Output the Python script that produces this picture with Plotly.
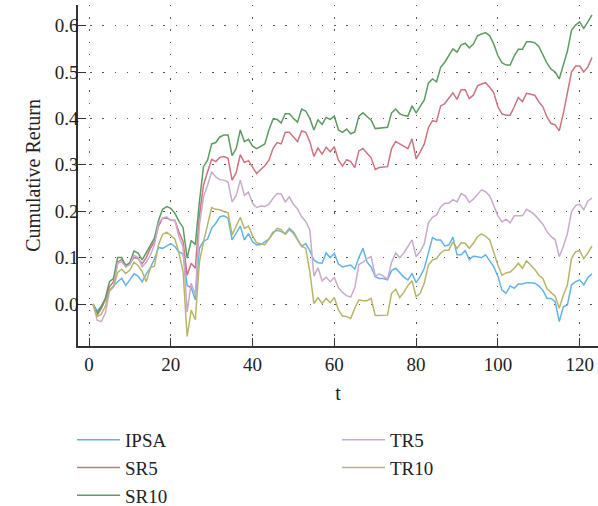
import plotly.graph_objects as go

t = list(range(1, 124))

ipsa = [0, -0.015, -0.005, 0.01, 0.03, 0.04, 0.048, 0.055, 0.04, 0.052,
        0.065, 0.06, 0.048, 0.065, 0.078, 0.097, 0.122, 0.12, 0.125, 0.13,
        0.124, 0.112, 0.108, 0.04, 0.035, 0.009, 0.12, 0.135, 0.14, 0.163,
        0.174, 0.188, 0.19, 0.185, 0.138, 0.152, 0.168, 0.138, 0.152, 0.134,
        0.127, 0.128, 0.134, 0.14, 0.155, 0.159, 0.156, 0.152, 0.163, 0.155,
        0.14, 0.124, 0.13, 0.115, 0.095, 0.089, 0.088, 0.11, 0.1, 0.109,
        0.086, 0.08, 0.082, 0.084, 0.075, 0.1, 0.12, 0.09, 0.08, 0.059,
        0.055, 0.055, 0.052, 0.072, 0.077, 0.068, 0.058, 0.052, 0.066, 0.046,
        0.059, 0.077, 0.11, 0.143, 0.138, 0.138, 0.125, 0.127, 0.144, 0.106,
        0.106, 0.115, 0.096, 0.103, 0.102, 0.1, 0.106, 0.092, 0.08, 0.06,
        0.03, 0.023, 0.039, 0.034, 0.043, 0.043, 0.046, 0.046, 0.045, 0.039,
        0.03, 0.012, 0.012, 0.005, -0.038, -0.006, -0.002, 0.041, 0.048, 0.052,
        0.041, 0.057, 0.065]

sr5 = [0, -0.024, -0.01, 0.01, 0.037, 0.048, 0.09, 0.096, 0.084, 0.088,
       0.1, 0.098, 0.087, 0.1, 0.12, 0.134, 0.168, 0.185, 0.185, 0.181,
       0.18, 0.155, 0.135, 0.062, 0.088, 0.077, 0.19, 0.256, 0.285, 0.312,
       0.307, 0.316, 0.318, 0.314, 0.267, 0.283, 0.322, 0.305, 0.309, 0.296,
       0.281, 0.29, 0.298, 0.31, 0.335, 0.348, 0.345, 0.37, 0.37, 0.36,
       0.35, 0.373, 0.37, 0.35, 0.318, 0.336, 0.323, 0.338, 0.328, 0.339,
       0.31, 0.297, 0.311, 0.307, 0.294, 0.33, 0.335, 0.325, 0.315, 0.29,
       0.294, 0.295, 0.296, 0.335, 0.35, 0.345, 0.34, 0.335, 0.356, 0.313,
       0.328, 0.345, 0.38, 0.395, 0.393, 0.427, 0.432, 0.443, 0.455, 0.441,
       0.462, 0.462, 0.443, 0.45, 0.47, 0.474, 0.477, 0.467, 0.455, 0.425,
       0.41, 0.407, 0.407, 0.425, 0.445, 0.436, 0.454, 0.452, 0.45, 0.436,
       0.425, 0.403, 0.389, 0.386, 0.373, 0.411, 0.454, 0.5, 0.513, 0.513,
       0.5, 0.511, 0.531]

sr10 = [0, -0.02, -0.005, 0.012, 0.048, 0.055, 0.1, 0.1, 0.08, 0.09,
        0.114, 0.11, 0.095, 0.11, 0.125, 0.142, 0.18, 0.204, 0.21, 0.206,
        0.196, 0.178, 0.165, 0.099, 0.137, 0.128, 0.22, 0.296, 0.31, 0.345,
        0.348, 0.36, 0.364, 0.364, 0.32, 0.335, 0.375, 0.35, 0.355, 0.34,
        0.335, 0.34, 0.345, 0.375, 0.398, 0.398, 0.39, 0.41, 0.41, 0.4,
        0.392, 0.42, 0.416, 0.4, 0.375, 0.397, 0.387, 0.402, 0.398, 0.405,
        0.375, 0.37, 0.377, 0.367, 0.371, 0.405, 0.412, 0.404, 0.396, 0.378,
        0.379, 0.38, 0.381, 0.412, 0.42, 0.41, 0.406, 0.405, 0.427, 0.412,
        0.425, 0.44, 0.476, 0.485, 0.479, 0.51, 0.521, 0.535, 0.55, 0.543,
        0.558, 0.562, 0.552, 0.56, 0.578, 0.582, 0.585, 0.578, 0.56, 0.535,
        0.52, 0.515, 0.515, 0.535, 0.549, 0.549, 0.565, 0.565, 0.563, 0.555,
        0.537, 0.519, 0.506, 0.5, 0.485, 0.515, 0.545, 0.59, 0.601, 0.608,
        0.594, 0.608, 0.623]

tr5 = [0, -0.035, -0.038, -0.02, 0.027, 0.037, 0.088, 0.091, 0.08, 0.085,
       0.105, 0.1, 0.08, 0.09, 0.105, 0.127, 0.174, 0.185, 0.188, 0.18,
       0.18, 0.145, 0.123, -0.017, 0.045, 0.02, 0.17, 0.231, 0.256, 0.285,
       0.274, 0.268, 0.267, 0.263, 0.22, 0.234, 0.267, 0.234, 0.241, 0.217,
       0.208, 0.211, 0.21, 0.215, 0.228, 0.238, 0.237, 0.22, 0.231, 0.215,
       0.205, 0.188, 0.178, 0.16, 0.06, 0.078, 0.05, 0.058, 0.048, 0.057,
       0.035, 0.025, 0.018, 0.015, 0.035, 0.085, 0.09, 0.098, 0.102, 0.06,
       0.065, 0.06, 0.053, 0.09, 0.11, 0.1, 0.11, 0.125, 0.138, 0.102,
       0.113, 0.13, 0.175, 0.187, 0.192, 0.209, 0.217, 0.217, 0.225, 0.22,
       0.238, 0.233, 0.219, 0.226, 0.237, 0.246, 0.242, 0.233, 0.212, 0.19,
       0.177, 0.183, 0.175, 0.19, 0.19, 0.19, 0.204, 0.199, 0.192, 0.181,
       0.172, 0.156, 0.145, 0.139, 0.102, 0.124, 0.152, 0.199, 0.212, 0.215,
       0.203, 0.222, 0.228]

tr10 = [0, -0.027, -0.022, -0.005, 0.03, 0.037, 0.068, 0.075, 0.066, 0.073,
        0.09, 0.083, 0.07, 0.048, 0.078, 0.082, 0.128, 0.15, 0.155, 0.148,
        0.14, 0.11, 0.07, -0.07, -0.013, -0.034, 0.09, 0.134, 0.17, 0.208,
        0.204, 0.203, 0.199, 0.197, 0.149, 0.168, 0.187, 0.163, 0.168, 0.147,
        0.132, 0.13, 0.128, 0.14, 0.152, 0.163, 0.16, 0.15, 0.16, 0.152,
        0.138, 0.124, 0.12, 0.07, 0.001, 0.014, 0.001, 0.012, 0.003, 0.014,
        -0.013, -0.026, -0.027, -0.031, -0.009, 0.009, 0.007, 0.007, 0.012, -0.025,
        -0.025, -0.024, -0.024, 0.023, 0.032, 0.014, 0.025, 0.04, 0.05, 0.016,
        0.023, 0.045, 0.084, 0.095, 0.098, 0.11, 0.116, 0.116, 0.134, 0.12,
        0.132, 0.131, 0.12, 0.131, 0.145, 0.151, 0.146, 0.138, 0.109, 0.084,
        0.062, 0.067, 0.069, 0.077, 0.088, 0.077, 0.093, 0.084, 0.075, 0.062,
        0.055, 0.033, 0.024, 0.017, -0.009, 0.019, 0.041, 0.098, 0.113, 0.115,
        0.098, 0.11, 0.125]

series_names = ["IPSA", "SR5", "SR10", "TR5", "TR10"]
series_values = [ipsa, sr5, sr10, tr5, tr10]
colors = ["#62B3E6", "#CC7480", "#5E9B62", "#C9ABCB", "#B7B56C"]
legend_ids = ["legend", "legend", "legend", "legend2", "legend2"]

x_ticks = [0, 20, 40, 60, 80, 100, 120]
y_ticks = [0.0, 0.1, 0.2, 0.3, 0.4, 0.5, 0.6]

FONT = "Liberation Serif"

fig = go.Figure()
for name, vals, col, lg in zip(series_names, series_values, colors, legend_ids):
    fig.add_trace(go.Scatter(x=t, y=vals, mode="lines", name=name,
                             line=dict(color=col, width=1.5),
                             legend=lg, legendgroup=name))

axis_common = dict(
    showline=True, linecolor="#333333", linewidth=1.5,
    ticks="inside", ticklen=8, tickwidth=1.3, tickcolor="#333333",
    showgrid=True, gridcolor="#555555", gridwidth=1.3, griddash="1.3px,10.9px",
    zeroline=False, mirror=False, automargin=False,
    tickfont=dict(family=FONT, size=19, color="#222222"),
)

fig.update_layout(
    width=598, height=506,
    margin=dict(l=78, r=0, t=5, b=160, autoexpand=False),
    paper_bgcolor="white", plot_bgcolor="white",
    font=dict(family=FONT, size=19, color="#222222"),
    xaxis=dict(range=[-2.69, 124.48], tickvals=x_ticks,
               title=dict(text="t", font=dict(family=FONT, size=20), standoff=12),
               **axis_common),
    yaxis=dict(range=[-0.0905, 0.6444], tickvals=y_ticks, tickformat=".1f",
               ticklabelstandoff=-6,
               title=dict(text="Cumulative Return", font=dict(family=FONT, size=20), standoff=9),
               **axis_common),
    legend=dict(x=-0.0115, y=-0.22, xanchor="left", yanchor="top",
                bgcolor="rgba(0,0,0,0)", itemwidth=43, tracegroupgap=0,
                font=dict(family=FONT, size=19)),
    legend2=dict(x=0.498, y=-0.22, xanchor="left", yanchor="top",
                 bgcolor="rgba(0,0,0,0)", itemwidth=43, tracegroupgap=0,
                 font=dict(family=FONT, size=19)),
    showlegend=True,
)

fig.write_html("out.html", config={"displayModeBar": False},
               post_script="document.body.style.margin='0';document.body.style.padding='0';")
